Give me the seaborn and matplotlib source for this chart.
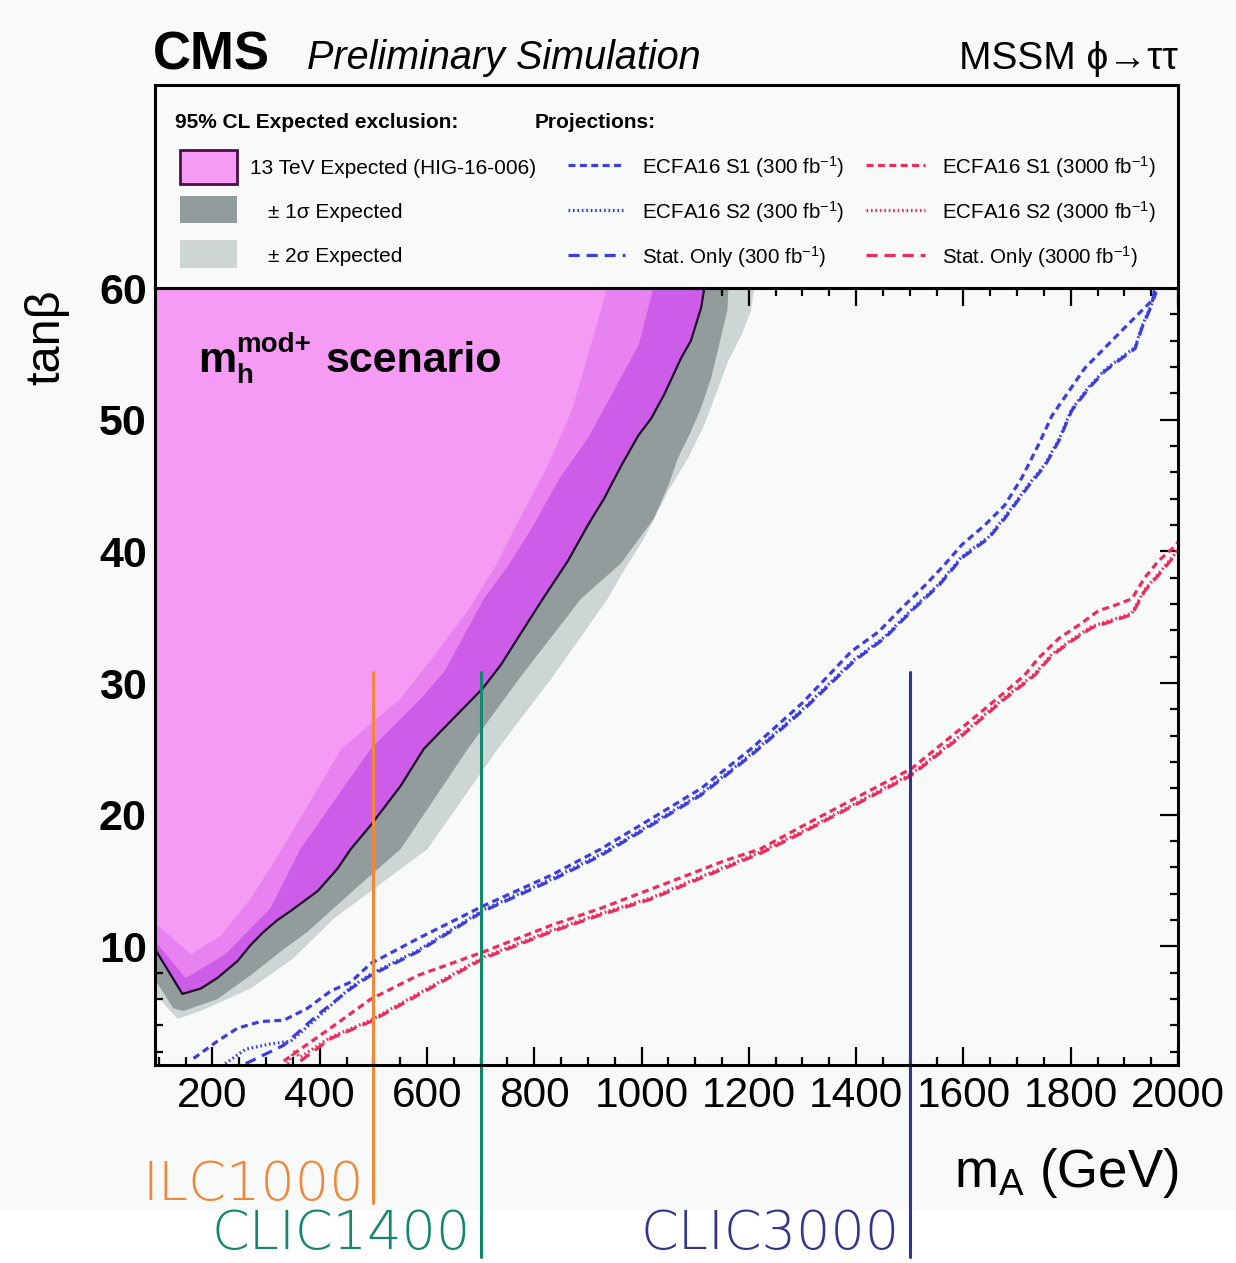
import numpy as np
import pandas as pd
import matplotlib
matplotlib.use("Agg")
import matplotlib.pyplot as plt
import matplotlib.transforms as mtransforms
from matplotlib.patches import Rectangle
import seaborn as sns

# ---------------- data (mA [GeV], tan beta) ----------------
# 13 TeV expected exclusion contour
exp_m = [93, 144, 178, 209, 247, 271, 295, 321, 346, 396, 433, 458, 495, 551, 594, 644, 704, 738, 769, 816, 863, 900, 930, 962, 994, 1018, 1042, 1074, 1092, 1111, 1117]
exp_t = [9.8, 6.4, 6.8, 7.6, 8.9, 10.1, 11.1, 12.0, 12.7, 14.2, 15.9, 17.4, 19.2, 22.2, 25.0, 27.1, 29.6, 31.4, 33.4, 36.4, 39.3, 42.0, 44.0, 46.5, 48.8, 50.1, 51.9, 54.7, 56.0, 58.5, 60.0]
# +1 sigma edge (outer)
p1_m = [93, 127, 146, 209, 271, 333, 377, 467, 551, 676, 773, 887, 962, 1023, 1050, 1068, 1092, 1111, 1130, 1160, 1162]
p1_t = [7.5, 5.3, 5.1, 6.0, 7.8, 9.8, 11.1, 14.4, 17.4, 25.0, 30.4, 36.4, 39.1, 42.5, 45.0, 47.1, 49.1, 50.9, 53.2, 58.3, 60.0]
# +2 sigma edge (outer)
p2_m = [93, 135, 178, 271, 351, 426, 601, 732, 833, 937, 962, 1005, 1050, 1087, 1117, 1143, 1162, 1186, 1204, 1210]
p2_t = [6.4, 4.5, 5.1, 6.8, 9.1, 12.1, 17.4, 25.0, 30.4, 36.4, 38.2, 41.0, 44.6, 47.1, 49.6, 52.4, 54.5, 56.4, 58.3, 60.0]
# -1 sigma edge (inner)
m1_m = [93, 150, 224, 308, 364, 495, 588, 633, 706, 751, 796, 848, 900, 951, 995, 1022]
m1_t = [10.4, 7.6, 9.4, 12.9, 17.4, 25.0, 28.8, 30.9, 36.4, 38.9, 41.8, 45.6, 48.6, 52.4, 55.7, 60.0]
# -2 sigma edge (inner)
m2_m = [93, 160, 215, 271, 327, 440, 550, 610, 676, 728, 773, 825, 870, 906, 936]
m2_t = [11.8, 9.4, 10.8, 13.6, 17.2, 25.0, 28.8, 31.9, 35.5, 38.9, 42.5, 46.5, 50.7, 55.7, 60.0]

# Projections, 300 fb-1
s1_300_m = [165, 209, 247, 290, 333, 377, 420, 458, 495, 583, 706, 831, 924, 1018, 1111, 1204, 1300, 1391, 1442, 1485, 1528, 1565, 1597, 1640, 1677, 1709, 1740, 1765, 1826, 1901, 1955, 1962]
s1_300_t = [1.5, 2.8, 3.8, 4.3, 4.4, 5.3, 6.6, 7.3, 8.7, 10.6, 13.1, 15.4, 17.4, 19.7, 22.0, 25.0, 28.5, 32.4, 33.9, 35.7, 37.4, 39.0, 40.5, 42.0, 43.5, 45.6, 48.1, 50.3, 53.9, 57.0, 59.2, 60.0]
s2_300_m = [224, 262, 308, 346, 396, 458, 495, 583, 706, 831, 924, 1018, 1111, 1204, 1300, 1397, 1453, 1509, 1554, 1597, 1647, 1677, 1722, 1752, 1778, 1802, 1834, 1864, 1890, 1920, 1933, 1951, 1957]
s2_300_t = [1.1, 2.2, 2.6, 2.8, 4.6, 6.9, 7.9, 9.7, 12.8, 15.1, 17.0, 19.3, 21.6, 24.6, 28.0, 31.8, 33.5, 35.8, 37.5, 39.6, 41.1, 42.6, 45.1, 46.6, 48.5, 50.8, 52.5, 53.8, 54.6, 55.5, 57.1, 58.8, 60.0]
st_300_m = [262, 333, 396, 458, 495, 583, 706, 831, 924, 1018, 1111, 1204, 1300, 1397, 1453, 1509, 1554, 1597, 1647, 1677, 1722, 1752, 1778, 1802, 1834, 1864, 1890, 1920, 1933, 1951, 1957]
st_300_t = [1.1, 2.5, 4.8, 6.8, 7.8, 9.6, 12.7, 15.0, 16.9, 19.2, 21.5, 24.5, 27.9, 31.7, 33.4, 35.7, 37.4, 39.5, 41.0, 42.5, 45.0, 46.5, 48.4, 50.7, 52.4, 53.7, 54.5, 55.4, 57.0, 58.7, 60.0]

# Projections, 3000 fb-1
s1_3000_m = [333, 364, 420, 495, 583, 706, 831, 924, 988, 1072, 1154, 1221, 1298, 1391, 1503, 1597, 1671, 1714, 1740, 1778, 1815, 1852, 1882, 1914, 1938, 1964, 1989, 2000]
s1_3000_t = [1.3, 2.2, 3.8, 6.0, 7.8, 9.6, 11.6, 12.9, 13.9, 15.2, 16.5, 17.4, 19.1, 21.1, 23.5, 26.6, 29.1, 30.6, 31.9, 33.4, 34.4, 35.5, 35.9, 36.4, 38.0, 39.3, 40.2, 40.7]
s2_3000_m = [340, 352, 364, 420, 495, 583, 706, 831, 924, 1018, 1111, 1223, 1298, 1391, 1503, 1597, 1671, 1733, 1765, 1802, 1839, 1877, 1914, 1938, 1970, 1994, 2000]
s2_3000_t = [1.1, 2.0, 1.6, 3.1, 4.4, 6.4, 9.2, 11.2, 12.5, 13.7, 15.3, 17.2, 18.7, 20.7, 23.1, 26.1, 28.7, 30.7, 32.2, 33.3, 34.3, 34.8, 35.3, 37.1, 38.6, 39.8, 40.2]
st_3000_m = [364, 420, 495, 583, 706, 831, 924, 1018, 1111, 1223, 1298, 1391, 1503, 1597, 1671, 1733, 1765, 1802, 1839, 1877, 1914, 1938, 1970, 1994, 2000]
st_3000_t = [1.3, 3.0, 4.3, 6.3, 9.1, 11.1, 12.4, 13.6, 15.2, 17.1, 18.6, 20.6, 23.0, 26.0, 28.6, 30.6, 32.1, 33.2, 34.2, 34.7, 35.2, 37.0, 38.5, 39.7, 40.1]

# Future colliders (reach in mA)
coll_names = ["ILC1000", "CLIC1400", "CLIC3000"]
coll_mass = [500, 700, 1500]

x_ticks = [200, 400, 600, 800, 1000, 1200, 1400, 1600, 1800, 2000]
y_ticks = [10, 20, 30, 40, 50, 60]

# ---------------- style ----------------
sns.set_theme(style="white")
plt.rcParams["font.family"] = ["Liberation Sans", "DejaVu Sans"]
plt.rcParams["mathtext.fontset"] = "custom"
plt.rcParams["mathtext.rm"] = "Liberation Sans"
plt.rcParams["mathtext.it"] = "Liberation Sans:italic"
plt.rcParams["mathtext.bf"] = "Liberation Sans:bold"
plt.rcParams["lines.scale_dashes"] = False
plt.rcParams["text.color"] = "black"
plt.rcParams["axes.labelcolor"] = "black"
plt.rcParams["xtick.color"] = "black"
plt.rcParams["ytick.color"] = "black"

BG = "#f8faf9"
C_PINK = "#f59bf3"
C_PINK2 = "#e782f0"
C_PURP = "#cd5de8"
C_GRAY1 = "#929c9c"
C_GRAY2 = "#cdd5d5"
C_BLUE = "#3d3de0"
C_RED = "#ee2b5b"
coll_colors = ["#f0873a", "#12876c", "#33348f"]

W, H = 1236, 1263
fig = plt.figure(figsize=(W / 100, H / 100), dpi=100, facecolor=BG)


def fx(px):
    return px / W


def fy(py):
    return 1 - py / H


fig.add_artist(Rectangle((0, 0), 1, fy(1210), transform=fig.transFigure,
                         facecolor="white", edgecolor="none", zorder=0))

ax = fig.add_axes([fx(155), fy(1065), fx(1178) - fx(155), fy(288) - fy(1065)])
axl = fig.add_axes([fx(155), fy(288), fx(1178) - fx(155), fy(85) - fy(288)])
ax.set_facecolor(BG)
axl.set_facecolor(BG)

XMIN, XMAX, YMIN, YMAX = 93, 2000, 1, 60


def region(ms, ts, color, z):
    ax.fill(list(ms) + [XMIN], list(ts) + [YMAX], color=color, lw=0, zorder=z)


region(p2_m, p2_t, C_GRAY2, 1)
region(p1_m, p1_t, C_GRAY1, 2)
region(exp_m, exp_t, C_PURP, 3)
region(m1_m, m1_t, C_PINK2, 4)
region(m2_m, m2_t, C_PINK, 5)

sns.lineplot(x=exp_m, y=exp_t, ax=ax, sort=False, estimator=None,
             color="#1c0b26", lw=1.6, zorder=6)

S1 = (0, (5, 3.2))
S2 = (0, (1.2, 2.0))
ST = (0, (8, 5))
lw = 2.3
for m, t, c, ls in [
    (s1_300_m, s1_300_t, C_BLUE, S1),
    (s2_300_m, s2_300_t, C_BLUE, S2),
    (st_300_m, st_300_t, C_BLUE, ST),
    (s1_3000_m, s1_3000_t, C_RED, S1),
    (s2_3000_m, s2_3000_t, C_RED, S2),
    (st_3000_m, st_3000_t, C_RED, ST),
]:
    df = pd.DataFrame({"mA": m, "tanb": t})
    sns.lineplot(data=df, x="mA", y="tanb", ax=ax, sort=False, estimator=None,
                 color=c, lw=lw, linestyle=ls, zorder=7)

ax.set_xlim(XMIN, XMAX)
ax.set_ylim(YMIN, YMAX)
ax.set_xlabel("")
ax.set_ylabel("")
ax.set_xticks(x_ticks)
ax.set_yticks(y_ticks)
ax.set_xticks(np.arange(100, 2001, 50), minor=True)
ax.set_yticks(np.arange(2, 61, 2), minor=True)
ax.tick_params(which="both", direction="in", top=True, right=True,
               bottom=True, left=True, width=1.6, color="black",
               labelcolor="black")
ax.tick_params(which="major", length=13)
ax.tick_params(which="minor", length=6)
ax.tick_params(axis="x", labelsize=30.5, pad=8)
ax.tick_params(axis="y", labelsize=31, pad=6)
for lab in ax.get_yticklabels():
    lab.set_fontweight("bold")
ax.set_axisbelow(False)
for sp in ax.spines.values():
    sp.set_linewidth(2.2)
    sp.set_color("black")
    sp.set_zorder(20)

# collider reach lines
trans = mtransforms.blended_transform_factory(ax.transData, ax.transAxes)


def afrac(py):
    return (1065 - py) / 777


line_bot = [1203, 1257, 1257]
lab_base = [1200, 1249, 1249]
for name, m, c, lb, bb in zip(coll_names, coll_mass, coll_colors, line_bot, lab_base):
    ax.plot([m, m], [afrac(672), afrac(lb)], transform=trans, clip_on=False,
            color=c, lw=2.2, zorder=15)
    ax.annotate(name, xy=(m, afrac(bb)), xycoords=trans, xytext=(-7, 0),
                textcoords="offset points", ha="right", va="baseline",
                fontsize=39, color=c, family="DejaVu Sans", fontweight="light",
                annotation_clip=False)

# ---------------- legend box ----------------
axl.set_xlim(155, 1178)
axl.set_ylim(288, 85)
axl.set_xticks([])
axl.set_yticks([])
for sp in axl.spines.values():
    sp.set_linewidth(2.2)
    sp.set_color("black")

fs = 15
fs2 = 14.8
axl.text(175, 123, "95% CL Expected exclusion:", fontsize=fs, fontweight="bold", va="center")
axl.text(535, 123, "Projections:", fontsize=fs, fontweight="bold", va="center")
axl.add_patch(Rectangle((180, 150), 57, 34, facecolor=C_PINK, edgecolor="#4a1044", lw=2))
axl.add_patch(Rectangle((180, 196), 57, 27, facecolor=C_GRAY1, edgecolor="none"))
axl.add_patch(Rectangle((180, 240), 57, 28, facecolor=C_GRAY2, edgecolor="none"))
axl.text(250, 168, "13 TeV Expected (HIG-16-006)", fontsize=fs, va="center")
axl.text(268, 212, "± 1σ Expected", fontsize=fs, va="center")
axl.text(268, 256, "± 2σ Expected", fontsize=fs, va="center")
rows = [165, 210, 255]
styles = [S1, S2, ST]
names = ["ECFA16 S1", "ECFA16 S2", "Stat. Only"]
for y, ls, nm in zip(rows, styles, names):
    axl.plot([568, 625], [y, y], color=C_BLUE, lw=lw, linestyle=ls)
    axl.text(642, y + 2, nm + r" (300 fb$^{-1}$)", fontsize=fs2, va="center")
    axl.plot([866, 925], [y, y], color=C_RED, lw=lw, linestyle=ls)
    axl.text(942, y + 2, nm + r" (3000 fb$^{-1}$)", fontsize=fs2, va="center")

# ---------------- titles / labels ----------------
fig.text(fx(153), fy(69), "CMS", fontsize=38, fontweight="bold", va="baseline")
fig.text(fx(307), fy(69), "Preliminary Simulation", fontsize=28.5, style="italic", va="baseline")
fig.text(fx(1178), fy(69), "MSSM ϕ→ττ", fontsize=28, ha="right", va="baseline")

# scenario label: m (h subscript, mod+ superscript) scenario
fig.text(fx(198), fy(372), "m", fontsize=31, fontweight="bold", va="baseline", zorder=30)
fig.text(fx(236), fy(352), "mod+", fontsize=20, fontweight="bold", va="baseline", zorder=30)
fig.text(fx(236), fy(383), "h", fontsize=20, fontweight="bold", va="baseline", zorder=30)
fig.text(fx(326), fy(372), "scenario", fontsize=31, fontweight="bold", va="baseline", zorder=30)

fig.text(fx(47), fy(289), "tanβ", rotation=90, ha="center", va="top", fontsize=35)
fig.text(fx(1178), fy(1187), r"m$_{\mathregular{A}}$ (GeV)", ha="right", va="baseline", fontsize=38)

fig.savefig("out.png", dpi=100, facecolor=BG)
